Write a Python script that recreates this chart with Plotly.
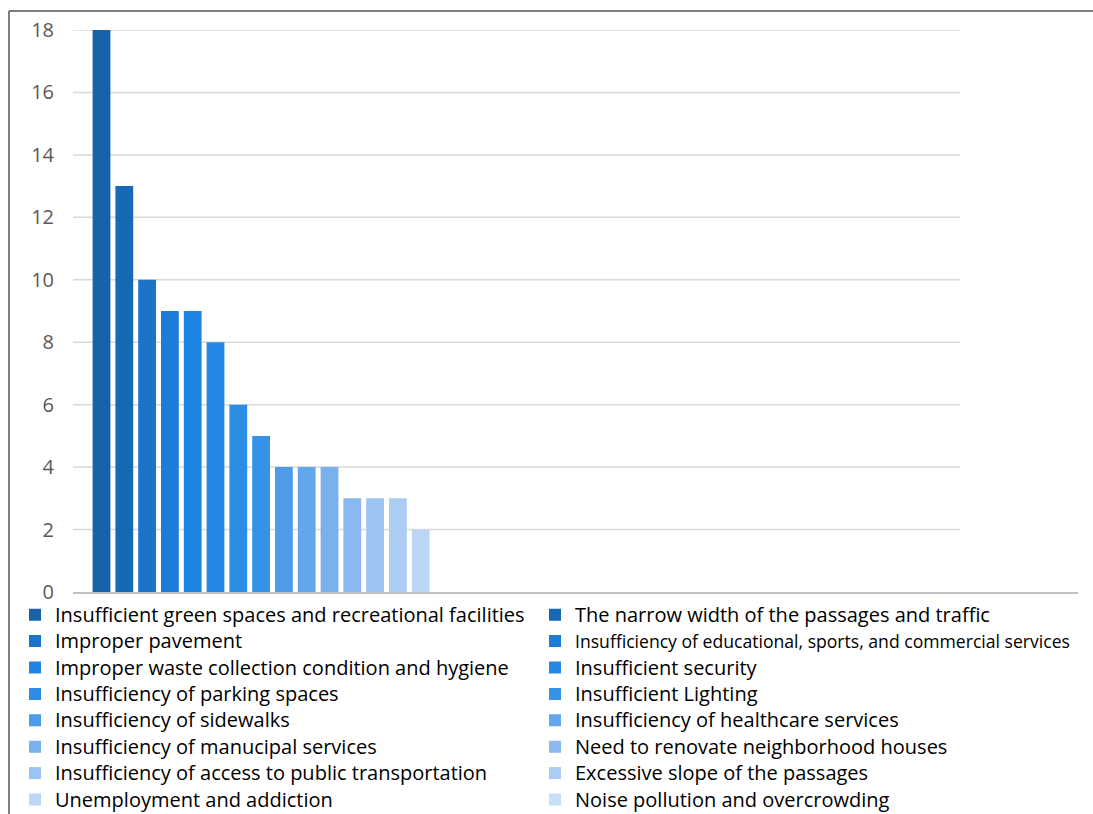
import plotly.graph_objects as go

# Problems reported by residents, ordered by number of mentions
categories = [
    "Insufficient green spaces and recreational facilities",
    "The narrow width of the passages and traffic",
    "Improper pavement",
    "Insufficiency of educational, sports, and commercial services",
    "Improper waste collection condition and hygiene",
    "Insufficient security",
    "Insufficiency of parking spaces",
    "Insufficient Lighting",
    "Insufficiency of sidewalks",
    "Insufficiency of healthcare services",
    "Insufficiency of manucipal services",
    "Need to renovate neighborhood houses",
    "Insufficiency of access to public transportation",
    "Excessive slope of the passages",
    "Unemployment and addiction",
    "Noise pollution and overcrowding",
]
counts = [18, 13, 10, 9, 9, 8, 6, 5, 4, 4, 4, 3, 3, 3, 2, 0]
colors = [
    "#1762a9", "#1769b5", "#1a74c9", "#1c7dd9", "#1f85e2", "#2489e4",
    "#2b8de6", "#3592e8", "#4e9be9", "#62a6ec", "#79b0ee", "#8ab9f0",
    "#9dc3f2", "#acccf3", "#bcd7f6", "#c8dff8",
]
y_ticks = [0, 2, 4, 6, 8, 10, 12, 14, 16, 18]

W, H = 1093, 814
ML, MR, MT, MB = 73, 15, 30, 221.5
plot_w = W - ML - MR
plot_h = H - MT - MB


def px_x(p):
    return (p - ML) / plot_w


def px_y(p):
    return (H - MB - p) / plot_h


fig = go.Figure()
for i, (name, val, col) in enumerate(zip(categories, counts, colors)):
    size = 17.6 if name.startswith("Insufficiency of educational") else 20
    label = "<span style='font-size:%spx'>%s</span>" % (size, name)
    # entries alternate between the left and right legend columns
    fig.add_trace(go.Bar(
        x=[i], y=[val], name=label, width=0.78,
        marker=dict(color=col, line=dict(width=0)),
        legend="legend" if i % 2 == 0 else "legend2",
        hovertemplate=name + ": %{y}<extra></extra>",
    ))

# horizontal gridlines (shorter than the category axis)
for t in y_ticks[1:]:
    fig.add_shape(type="line", xref="paper", yref="y",
                  x0=0, x1=px_x(960), y0=t, y1=t,
                  line=dict(color="#d9d9d9", width=1.5), layer="below")

# outer frame: top and left edges
fig.add_shape(type="line", xref="paper", yref="paper",
              x0=px_x(9), x1=px_x(W + 5), y0=px_y(11), y1=px_y(11),
              line=dict(color="#555555", width=1.5))
fig.add_shape(type="line", xref="paper", yref="paper",
              x0=px_x(9), x1=px_x(9), y0=px_y(11), y1=px_y(H + 5),
              line=dict(color="#555555", width=1.5))

legend_common = dict(
    orientation="v", xanchor="left", yanchor="top",
    font=dict(size=18, color="#000000"), tracegroupgap=0,
    itemclick=False, itemdoubleclick=False, bgcolor="rgba(0,0,0,0)",
)

fig.update_layout(
    width=W, height=H,
    margin=dict(l=ML, r=MR, t=MT, b=MB, pad=0, autoexpand=False),
    paper_bgcolor="white", plot_bgcolor="white",
    barmode="overlay",
    font=dict(family="'Open Sans', Lato, sans-serif", color="#000000"),
    xaxis=dict(range=[-1.25, 42.83], showticklabels=False, ticks="",
               showgrid=False, zeroline=False, showline=True,
               linecolor="#bfbfbf", linewidth=1.5, fixedrange=True),
    yaxis=dict(range=[0, 18], tickvals=y_ticks, showgrid=False,
               zeroline=False, showline=False, ticks="",
               ticklabelstandoff=18,
               tickfont=dict(size=20, color="#595959"), fixedrange=True),
    legend=dict(x=px_x(15), y=px_y(597), **legend_common),
    legend2=dict(x=px_x(535), y=px_y(597), **legend_common),
    showlegend=True,
)

fig.write_html("out.html")
